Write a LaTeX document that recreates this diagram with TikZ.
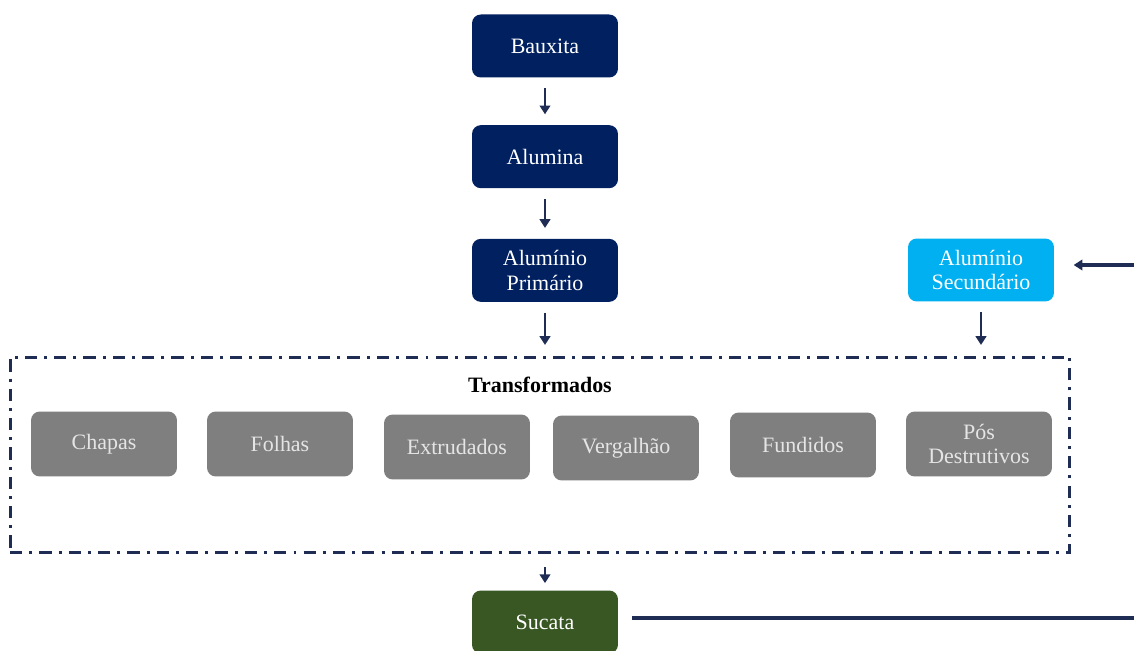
\documentclass[tikz,border=0pt]{standalone}
\usepackage{fontspec}
\setmainfont{Liberation Serif}
\usetikzlibrary{positioning,arrows.meta}

\definecolor{azulescuro}{RGB}{0,32,96}
\definecolor{azulclaro}{RGB}{0,176,240}
\definecolor{verdesucata}{RGB}{56,87,35}
\definecolor{cinza}{RGB}{127,127,127}
\definecolor{seta}{RGB}{31,44,84}

\begin{document}
\begin{tikzpicture}[x=0.02cm, y=-0.02cm, >={Triangle[length=5pt,width=6pt]},
   etapa/.style={rectangle, rounded corners=5pt, minimum width=2.92cm,
     minimum height=1.26cm, align=center, text=white,
     font=\fontsize{12.5}{14}\selectfont},
   produto/.style={etapa, fill=cinza, text=white!90!black, minimum height=1.3cm},
   fluxo/.style={->, draw=seta, line width=1.4pt, shorten >=6pt, shorten <=6pt}]

  \clip (0,0) rectangle (1134,651);
  \fill[white] (0,0) rectangle (1134,651);

  \node [etapa, fill=azulescuro] (bauxita) at (545,46) {Bauxita};
  \node [etapa, fill=azulescuro, below=0.94cm of bauxita] (alumina) {Alumina};
  \node [etapa, fill=azulescuro, below=1cm of alumina] (primario) {Alumínio\\Primário};
  \node [etapa, fill=azulclaro] (secundario) at (981,270) {Alumínio\\Secundário};

  % caixa dos transformados
  \node [draw=seta, line width=1.7pt, minimum width=21.2cm, minimum height=3.92cm,
     dash pattern=on 7pt off 4pt on 1.7pt off 4pt] (transf) at (540,455) {};
  \node [font=\bfseries\fontsize{12.5}{14}\selectfont, below=0.3cm of transf.north] (titulo) {Transformados};

  \node [produto] (chapas) at (104,444) {Chapas};
  \node [produto] (folhas) at (280,444) {Folhas};
  \node [produto] (extrudados) at (457,447) {Extrudados};
  \node [produto] (vergalhao) at (626,448) {Vergalhão};
  \node [produto] (fundidos) at (803,445) {Fundidos};
  \node [produto] (pos) at (979,444) {Pós\\Destrutivos};

  \node [etapa, fill=verdesucata] (sucata) at (545,622) {Sucata};

  \coordinate (retorno) at (1140,618);
  \coordinate (topo) at (1140,265);

  \draw [fluxo] (bauxita) -- (alumina);
  \draw [fluxo] (alumina) -- (primario);
  \draw [fluxo] (primario) -- (primario |- transf.north);
  \draw [fluxo] (secundario) -- (secundario |- transf.north);
  \draw [fluxo, shorten <=7pt, shorten >=4pt] (transf.south -| sucata) -- (sucata);
  \draw [->, draw=seta, line width=1.8pt, shorten <=8pt, shorten >=11pt]
     (sucata.east |- retorno) -- (retorno) -- (topo) -- (secundario.east |- topo);
\end{tikzpicture}
\end{document}
